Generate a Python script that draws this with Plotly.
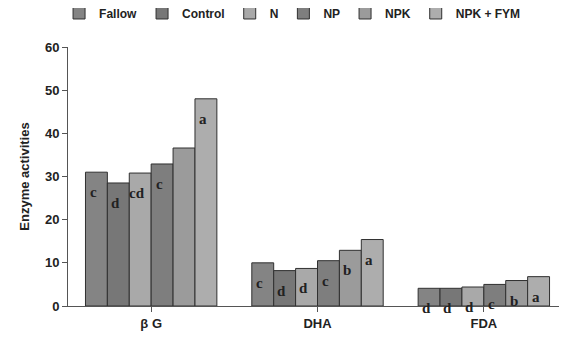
import plotly.graph_objects as go

categories = ["β G", "DHA", "FDA"]
series_names = ["Fallow", "Control", "N", "NP", "NPK", "NPK + FYM"]
fallow = [31.0, 10.0, 4.1]
control = [28.5, 8.2, 4.1]
n_vals = [30.8, 8.7, 4.4]
np_vals = [32.9, 10.5, 5.0]
npk = [36.6, 12.9, 5.9]
npk_fym = [48.0, 15.4, 6.8]
letters_fallow = ["c", "c", "d"]
letters_control = ["d", "d", "d"]
letters_n = ["cd", "d", "d"]
letters_np = ["c", "c", "c"]
letters_npk = ["", "b", "b"]
letters_npk_fym = ["a", "a", "a"]
y_ticks = [0, 10, 20, 30, 40, 50, 60]

values = [fallow, control, n_vals, np_vals, npk, npk_fym]
letters = [letters_fallow, letters_control, letters_n, letters_np, letters_npk, letters_npk_fym]
colors = ["#848484", "#777777", "#a9a9a9", "#7e7e7e", "#9b9b9b", "#adadad"]

bargap = 0.21
nser = len(series_names)
bw = (1 - bargap) / nser

fig = go.Figure()
for i, (name, vals) in enumerate(zip(series_names, values)):
    fig.add_trace(go.Bar(
        x=list(range(len(categories))), y=vals, name=name,
        marker=dict(color=colors[i], line=dict(color="#303030", width=1)),
        width=bw,
        offset=(i - nser / 2) * bw,
    ))
    for j, lab in enumerate(letters[i]):
        if lab:
            fig.add_annotation(
                x=j + (i - nser / 2 + 0.5) * bw, y=vals[j], text="<b>" + lab + "</b>",
                xref="x", yref="y", showarrow=False, yanchor="middle",
                yshift=-20, xshift=-3,
                font=dict(family="Liberation Serif", size=15, color="#222222"),
            )

# page body has an 8px default margin, so the figure is sized to fit the window
fig.update_layout(
    width=559, height=333,
    margin=dict(l=60, r=0, t=39, b=35, autoexpand=False),
    plot_bgcolor="white", paper_bgcolor="white",
    barmode="overlay",
    showlegend=True,
    legend=dict(
        orientation="h", x=0.45, xanchor="center", y=0.985, yref="container",
        yanchor="middle", font=dict(family="Arial", size=12, color="#222222", weight="bold"),
        itemwidth=30, traceorder="normal",
    ),
    font=dict(family="Arial", color="#222222"),
)
fig.update_xaxes(
    range=[-0.5, 2.5], tickmode="array", tickvals=[0, 1, 2], ticktext=categories,
    showline=True, linecolor="#555555", linewidth=1, ticks="outside",
    tickson="boundaries", ticklen=5, tickcolor="#555555",
    tickfont=dict(family="Arial", size=13, color="#222222", weight="bold"),
    showgrid=False, zeroline=False, automargin=False,
)
fig.update_yaxes(
    range=[0, 60], tickvals=y_ticks, showline=True, linecolor="#555555", linewidth=1,
    ticks="outside", ticklen=5, tickcolor="#555555", showgrid=False, zeroline=False,
    tickfont=dict(family="Arial", size=13, color="#222222", weight="bold"),
    title=dict(text="Enzyme activities", font=dict(family="Arial", size=13, color="#222222", weight="bold"), standoff=12),
    automargin=False,
)
fig.write_html("out.html")
